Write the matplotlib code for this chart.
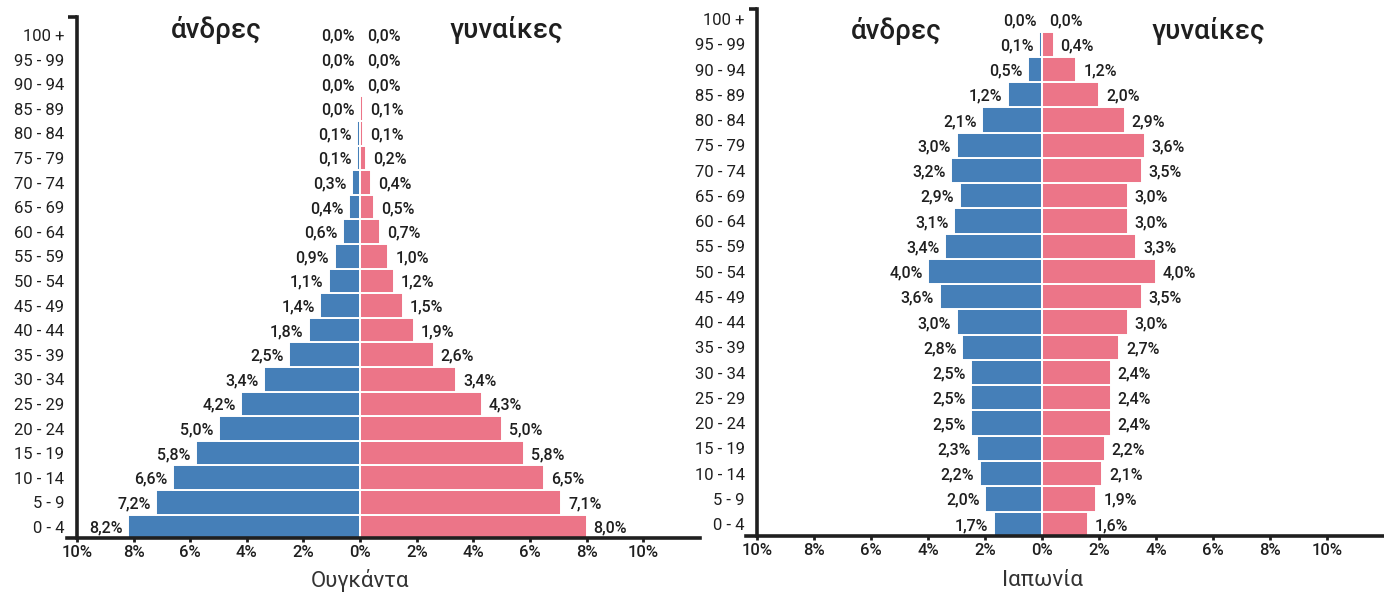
import matplotlib.pyplot as plt
from matplotlib.ticker import FixedLocator

# age groups from youngest to oldest
age_groups = ["0 - 4", "5 - 9", "10 - 14", "15 - 19", "20 - 24", "25 - 29", "30 - 34",
              "35 - 39", "40 - 44", "45 - 49", "50 - 54", "55 - 59", "60 - 64", "65 - 69",
              "70 - 74", "75 - 79", "80 - 84", "85 - 89", "90 - 94", "95 - 99", "100 +"]

uganda_men = [8.2, 7.2, 6.6, 5.8, 5.0, 4.2, 3.4, 2.5, 1.8, 1.4, 1.1, 0.9, 0.6, 0.4,
              0.3, 0.1, 0.1, 0.0, 0.0, 0.0, 0.0]
uganda_women = [8.0, 7.1, 6.5, 5.8, 5.0, 4.3, 3.4, 2.6, 1.9, 1.5, 1.2, 1.0, 0.7, 0.5,
                0.4, 0.2, 0.1, 0.1, 0.0, 0.0, 0.0]

japan_men = [1.7, 2.0, 2.2, 2.3, 2.5, 2.5, 2.5, 2.8, 3.0, 3.6, 4.0, 3.4, 3.1, 2.9,
             3.2, 3.0, 2.1, 1.2, 0.5, 0.1, 0.0]
japan_women = [1.6, 1.9, 2.1, 2.2, 2.4, 2.4, 2.4, 2.7, 3.0, 3.5, 4.0, 3.3, 3.0, 3.0,
               3.5, 3.6, 2.9, 2.0, 1.2, 0.4, 0.0]

x_ticks = [-10, -8, -6, -4, -2, 0, 2, 4, 6, 8, 10]

BLUE = "#457fb8"
PINK = "#ec7588"
INK = "#1f1f1f"

plt.rcParams["font.family"] = ["Roboto", "DejaVu Sans"]

W, H = 1384, 594
fig = plt.figure(figsize=(W / 100, H / 100), dpi=100)


def px_axes(x0, x1, y_top, y_bot):
    return fig.add_axes([x0 / W, 1 - y_bot / H, (x1 - x0) / W, (y_bot - y_top) / H])


def pyramid(ax, men, women, ylim, xlim, country, cx, head_y, men_x, women_x):
    y = list(range(len(age_groups)))
    ax.barh(y, [-v for v in men], height=1.0, color=BLUE, edgecolor="white", linewidth=1.4)
    ax.barh(y, women, height=1.0, color=PINK, edgecolor="white", linewidth=1.4)

    for yi, m, w in zip(y, men, women):
        ax.annotate(f"{m:.1f}%".replace(".", ","), (-m, yi), xytext=(-4, -1),
                    textcoords="offset points", ha="right", va="center",
                    fontsize=11.5, fontweight="medium", color=INK)
        ax.annotate(f"{w:.1f}%".replace(".", ","), (w, yi), xytext=(5, -1),
                    textcoords="offset points", ha="left", va="center",
                    fontsize=11.5, fontweight="medium", color=INK)

    ax.set_xlim(*xlim)
    ax.set_ylim(*ylim)
    ax.xaxis.set_major_locator(FixedLocator(x_ticks))
    ax.set_xticklabels([f"{abs(t)}%" for t in x_ticks])
    ax.set_yticks(y)
    ax.set_yticklabels(age_groups)
    ax.tick_params(axis="both", labelsize=12, colors=INK)
    ax.tick_params(axis="y", length=0, pad=9)
    ax.tick_params(axis="x", length=3, width=2, pad=2)
    for lab in ax.get_xticklabels() + ax.get_yticklabels():
        lab.set_fontweight("medium")

    for side in ["top", "right"]:
        ax.spines[side].set_visible(False)
    ax.spines["left"].set_position(("data", -10))
    for side in ["left", "bottom"]:
        ax.spines[side].set_linewidth(2.6)
        ax.spines[side].set_color(INK)
    # small cap on top of the age axis
    ax.plot([-10.3, -10], [ylim[1], ylim[1]], color=INK, lw=2.6, clip_on=False,
            solid_capstyle="butt")

    fig.text(men_x / W, 1 - head_y / H, "άνδρες", ha="center", va="center",
             fontsize=20, fontweight="medium", color=INK)
    fig.text(women_x / W, 1 - head_y / H, "γυναίκες", ha="center", va="center",
             fontsize=20, fontweight="medium", color=INK)
    fig.text(cx / W, 1 - 580 / H, country, ha="center", va="center",
             fontsize=16, color="#333333")


ax1 = px_axes(67, 700, 17, 538)
pyramid(ax1, uganda_men, uganda_women, (-0.45, 20.73), (-10.35, 12.0),
        "Ουγκάντα", 360, 30, 216, 506)

ax2 = px_axes(746, 1384, 9, 536)
pyramid(ax2, japan_men, japan_women, (-0.47, 20.4), (-10.4, 12.0),
        "Ιαπωνία", 1042, 31, 896, 1208)

fig.savefig("out.png", dpi=100)
